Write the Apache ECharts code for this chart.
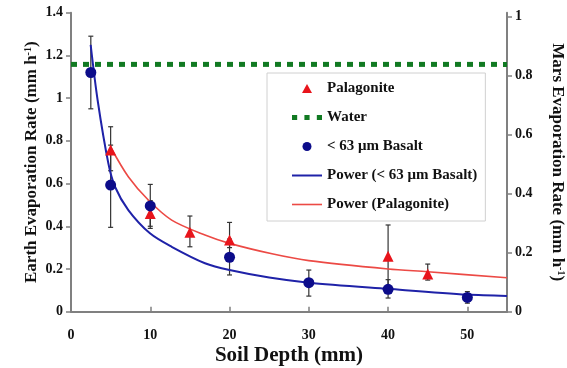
<!DOCTYPE html>
<html>
<head>
<meta charset="utf-8">
<script src="https://cdn.jsdelivr.net/npm/echarts@6/dist/echarts.min.js"></script>
<style>
  html, body { margin: 0; padding: 0; background: #fff; }
  #chart { width: 567px; height: 368px; }
</style>
</head>
<body>
<div id="chart"></div>
<script>
// measured points [depth mm, rate mm/h]
const palagonite = [[5, 0.757], [10, 0.46], [15, 0.372], [20, 0.336], [40, 0.26], [45, 0.176]]
const basalt = [[2.5, 1.12], [5, 0.593], [10, 0.495], [20, 0.255], [30, 0.136], [40, 0.105], [50, 0.067]]
// error bars [depth, low, high]
const palagoniteErr = [[5, 0.66, 0.866], [10, 0.40, 0.52], [15, 0.304, 0.448], [20, 0.30, 0.418], [40, 0.12, 0.406], [45, 0.148, 0.223]]
const basaltErr = [[2.5, 0.95, 1.29], [5, 0.395, 0.78], [10, 0.39, 0.596], [20, 0.172, 0.34], [30, 0.073, 0.195], [40, 0.064, 0.15], [50, 0.04, 0.094]]
// water reference line
const water = [[0, 1.158], [55, 1.158]]
// trend lines
const powerBasalt = [[2.48, 1.249], [3.36, 0.99], [4.71, 0.695], [5.55, 0.585], [7.23, 0.476], [9.96, 0.367], [12.7, 0.304], [16.9, 0.227], [20, 0.195], [25, 0.16], [30, 0.136], [40, 0.107], [50, 0.08], [55, 0.074]]
const powerPalagonite = [[5, 0.77], [7.23, 0.632], [9.75, 0.523], [12.7, 0.429], [16.9, 0.359], [20, 0.32], [25.5, 0.27], [30, 0.239], [40, 0.2], [45, 0.187], [55, 0.159]]
const xTicks = [0, 10, 20, 30, 40, 50]
const marsTicks = [0, 0.2, 0.4, 0.6, 0.8, 1]

const font = 'Liberation Serif'
const axisGrey = '#808080'
const red = '#e8141b'
const navy = '#0c0c8a'
const green = '#117a22'
const blueFit = '#1f22a8'
const redFit = '#ec4a45'

const chart = echarts.init(document.getElementById('chart'))

function errRender(params, api) {
    const top = api.coord([api.value(0), api.value(2)])
    const bot = api.coord([api.value(0), api.value(1)])
    const cap = 2.5
    const style = { stroke: '#333', lineWidth: 1.2 }
    return {
        type: 'group',
        children: [
            { type: 'line', shape: { x1: top[0], y1: top[1], x2: bot[0], y2: bot[1] }, style },
            { type: 'line', shape: { x1: top[0] - cap, y1: top[1], x2: top[0] + cap, y2: top[1] }, style },
            { type: 'line', shape: { x1: bot[0] - cap, y1: bot[1], x2: bot[0] + cap, y2: bot[1] }, style }
        ]
    }
}

const supRich = {
    t: { fontFamily: font, fontWeight: 'bold', fontSize: 17, color: '#111' },
    s: { fontFamily: font, fontWeight: 'bold', fontSize: 10, color: '#111', verticalAlign: 'top', padding: [0, 0, 8, 0] }
}

chart.setOption({
    animation: false,
    textStyle: { fontFamily: font },
    grid: { left: 71, right: 60, top: 12.7, bottom: 56.3, outerBoundsMode: 'none', containLabel: false },
    legend: {
        orient: 'vertical',
        left: 267,
        top: 73,
        padding: [7, 8, 8, 25],
        itemGap: 12,
        itemWidth: 30,
        itemHeight: 9,
        symbolKeepAspect: true,
        backgroundColor: '#fff',
        borderColor: '#d0d0d0',
        borderWidth: 1,
        textStyle: { fontFamily: font, fontWeight: 'bold', fontSize: 15, color: '#111', lineHeight: 17 },
        data: [
            { name: 'Palagonite', icon: 'path://M5,0 L10,9 L0,9 Z' },
            { name: 'Water', icon: 'path://M0,0h5v5h-5z M12,0h5v5h-5z M24,0h5v5h-5z' },
            { name: '< 63 μm Basalt', icon: 'path://M0,5 A5,5 0 1,1 10,5 A5,5 0 1,1 0,5 Z' },
            { name: 'Power (< 63 μm Basalt)', icon: 'path://M0,0 L30,0 L30,2 L0,2 Z' },
            { name: 'Power (Palagonite)', icon: 'path://M0,0 L30,0 L30,1.6 L0,1.6 Z' }
        ]
    },
    xAxis: {
        type: 'value',
        min: 0,
        max: 55,
        interval: 10,
        name: 'Soil Depth (mm)',
        nameLocation: 'middle',
        nameGap: 33,
        nameMoveOverlap: false,
        nameTextStyle: { fontFamily: font, fontWeight: 'bold', fontSize: 21, color: '#111' },
        splitLine: { show: false },
        axisLine: { lineStyle: { color: axisGrey, width: 2 } },
        axisTick: { inside: true, length: 5, customValues: xTicks, lineStyle: { color: axisGrey, width: 1.5 } },
        axisLabel: { customValues: xTicks, margin: 17, fontFamily: font, fontWeight: 'bold', fontSize: 14, color: '#111' }
    },
    yAxis: [{
        type: 'value',
        min: 0,
        max: 1.4,
        interval: 0.2,
        name: '{t|Earth Evaporation Rate (mm h}{s|-1}{t|)}',
        nameLocation: 'middle',
        nameGap: 30,
        nameRotate: 90,
        nameMoveOverlap: false,
        nameTextStyle: { rich: supRich },
        splitLine: { show: false },
        axisLine: { show: true, lineStyle: { color: axisGrey, width: 2 } },
        axisTick: { show: true, length: 5, lineStyle: { color: axisGrey, width: 1.5 } },
        axisLabel: { margin: 8, fontFamily: font, fontWeight: 'bold', fontSize: 14, color: '#111' }
    }, {
        type: 'value',
        position: 'right',
        min: 0,
        max: 1.0136,
        interval: 0.2,
        name: '{t|Mars Evaporation Rate (mm h}{s|-1}{t|)}',
        nameLocation: 'middle',
        nameGap: 41,
        nameRotate: -90,
        nameMoveOverlap: false,
        nameTextStyle: { rich: supRich },
        splitLine: { show: false },
        axisLine: { show: true, lineStyle: { color: axisGrey, width: 2 } },
        axisTick: { show: true, length: 5, customValues: marsTicks, lineStyle: { color: axisGrey, width: 1.5 } },
        axisLabel: { customValues: marsTicks, margin: 8, fontFamily: font, fontWeight: 'bold', fontSize: 14, color: '#111' }
    }],
    series: [
        {
            type: 'custom',
            renderItem: errRender,
            data: palagoniteErr,
            z: 1,
            silent: true
        },
        {
            type: 'custom',
            renderItem: errRender,
            data: basaltErr,
            z: 1,
            silent: true
        },
        {
            name: 'Palagonite',
            type: 'scatter',
            symbol: 'triangle',
            symbolSize: 11,
            itemStyle: { color: red, opacity: 1 },
            data: palagonite,
            z: 3
        },
        {
            name: 'Water',
            type: 'line',
            symbol: 'none',
            lineStyle: { color: green, width: 5, type: [6, 6], cap: 'butt' },
            itemStyle: { color: green },
            data: water,
            z: 2
        },
        {
            name: '< 63 μm Basalt',
            type: 'scatter',
            symbol: 'circle',
            symbolSize: 11,
            itemStyle: { color: navy, opacity: 1 },
            data: basalt,
            z: 4
        },
        {
            name: 'Power (< 63 μm Basalt)',
            type: 'line',
            smooth: 0.3,
            symbol: 'none',
            lineStyle: { color: blueFit, width: 2 },
            itemStyle: { color: blueFit },
            data: powerBasalt,
            z: 2
        },
        {
            name: 'Power (Palagonite)',
            type: 'line',
            smooth: 0.3,
            symbol: 'none',
            lineStyle: { color: redFit, width: 1.6 },
            itemStyle: { color: redFit },
            data: powerPalagonite,
            z: 2
        }
    ]
})
</script>
</body>
</html>
